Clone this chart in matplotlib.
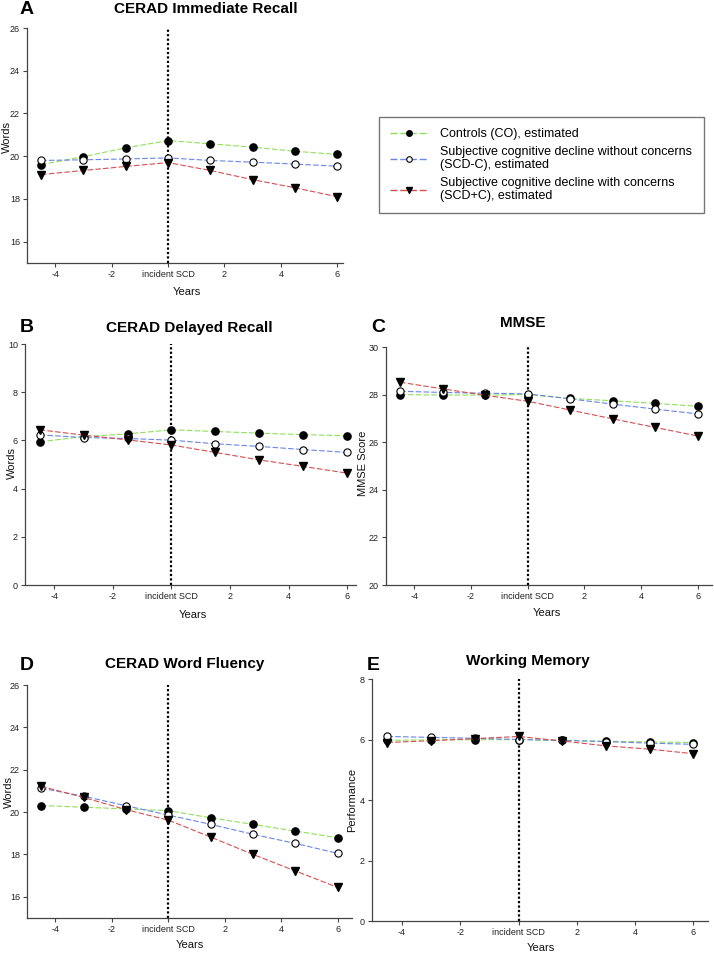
#!/usr/bin/env python3
import matplotlib
matplotlib.use('Agg')
import matplotlib.pyplot as plt
from matplotlib.lines import Line2D

plt.rcParams['font.family'] = ['Liberation Sans', 'DejaVu Sans']

years = [-4.5, -3, -1.5, 0, 1.5, 3, 4.5, 6]

# A - CERAD immediate recall
imm_co = [19.6, 19.98, 20.39, 20.73, 20.58, 20.42, 20.23, 20.08]
imm_nc = [19.8, 19.83, 19.87, 19.92, 19.8, 19.72, 19.63, 19.53]
imm_c = [19.14, 19.33, 19.52, 19.7, 19.33, 18.9, 18.52, 18.1]

# B - CERAD delayed recall
del_co = [5.94, 6.16, 6.27, 6.44, 6.37, 6.3, 6.24, 6.19]
del_nc = [6.23, 6.12, 6.08, 6.01, 5.86, 5.75, 5.62, 5.5]
del_c = [6.44, 6.22, 6.02, 5.81, 5.5, 5.19, 4.92, 4.64]

# C - MMSE
mmse_co = [28.0, 27.98, 27.98, 28.0, 27.84, 27.74, 27.63, 27.51]
mmse_nc = [28.14, 28.09, 28.06, 28.03, 27.82, 27.6, 27.39, 27.19]
mmse_c = [28.52, 28.24, 27.97, 27.72, 27.35, 26.98, 26.62, 26.26]

# D - CERAD word fluency
flu_co = [20.31, 20.23, 20.15, 20.07, 19.73, 19.42, 19.1, 18.79]
flu_nc = [21.13, 20.75, 20.3, 19.86, 19.42, 18.95, 18.52, 18.05]
flu_c = [21.22, 20.69, 20.12, 19.62, 18.82, 18.0, 17.22, 16.44]

# E - working memory
wm_co = [5.97, 5.99, 5.99, 6.0, 5.97, 5.94, 5.92, 5.9]
wm_nc = [6.1, 6.07, 6.04, 6.0, 5.97, 5.93, 5.88, 5.84]
wm_c = [5.9, 5.96, 6.03, 6.1, 5.95, 5.79, 5.68, 5.53]

xticks = [-4, -2, 0, 2, 4, 6]
xticklabels = ['-4', '-2', 'incident SCD', '2', '4', '6']

labels = ['Controls (CO), estimated',
          'Subjective cognitive decline without concerns\n(SCD-C), estimated',
          'Subjective cognitive decline with concerns\n(SCD+C), estimated']

green = '#8ee05a'
blue = '#6a86e6'
red = '#d45050'
spine_col = '#444444'

W, H = 714, 955
fig = plt.figure(figsize=(W / 100, H / 100), dpi=100)


def box(l, t, r, b):
    return [l / W, 1 - b / H, (r - l) / W, (b - t) / H]


def panel(rect, co, nc, c, ylim, yticks, xlim, letter, lpos, title, tpos, ylabel, ypos, xlpos):
    ax = fig.add_axes(box(*rect))
    dash = (0, (5, 2))
    ax.plot(years, co, color=green, lw=0.8, linestyle=dash, marker='o', ms=5.2,
            mfc='black', mec='black', zorder=3)
    ax.plot(years, nc, color=blue, lw=0.8, linestyle=dash, marker='o', ms=5.2,
            mfc='white', mec='black', mew=0.8, zorder=3)
    ax.plot(years, c, color=red, lw=0.8, linestyle=dash, marker='v', ms=5.2,
            mfc='black', mec='black', zorder=3)
    ax.axvline(0, color='black', lw=1.6, linestyle=(0, (1, 1)), zorder=2)
    ax.set_xlim(*xlim)
    ax.set_ylim(*ylim)
    ax.set_yticks(yticks)
    ax.set_xticks(xticks)
    ax.set_xticklabels(xticklabels)
    for s in ['top', 'right']:
        ax.spines[s].set_visible(False)
    for s in ['left', 'bottom']:
        ax.spines[s].set_color(spine_col)
        ax.spines[s].set_linewidth(0.9)
    ax.tick_params(labelsize=6.5, length=3, width=0.8, color=spine_col,
                   labelcolor='#222222', pad=2)
    fig.text(lpos[0] / W, 1 - lpos[1] / H, letter, fontsize=14, fontweight='bold',
             ha='center', va='center')
    fig.text(tpos[0] / W, 1 - tpos[1] / H, title, fontsize=11, fontweight='bold',
             ha='center', va='center')
    fig.text(ypos[0] / W, 1 - ypos[1] / H, ylabel, fontsize=8, rotation=90,
             ha='center', va='center', color='#111111')
    fig.text(xlpos[0] / W, 1 - xlpos[1] / H, 'Years', fontsize=8,
             ha='center', va='center', color='#111111')
    return ax


panel((27, 28, 343, 263), imm_co, imm_nc, imm_c, (15, 26), [16, 18, 20, 22, 24, 26],
      (-5, 6.2), 'A', (27, 10), 'CERAD Immediate Recall', (206, 9),
      'Words', (7, 137), (187, 292))
panel((25, 344, 356, 585), del_co, del_nc, del_c, (0, 10), [0, 2, 4, 6, 8, 10],
      (-5, 6.3), 'B', (27, 328), 'CERAD Delayed Recall', (189, 328),
      'Words', (12, 463), (193, 615))
panel((386, 347, 712, 585), mmse_co, mmse_nc, mmse_c, (20, 30), [20, 22, 24, 26, 28, 30],
      (-5, 6.5), 'C', (378, 328), 'MMSE', (523, 323),
      'MMSE Score', (363, 463), (547, 613))
panel((27, 685, 352, 918), flu_co, flu_nc, flu_c, (15, 26), [16, 18, 20, 22, 24, 26],
      (-5, 6.5), 'D', (27, 666), 'CERAD Word Fluency', (185, 664),
      'Words', (9, 792), (190, 945))
panel((372, 679, 708, 921), wm_co, wm_nc, wm_c, (0, 8), [0, 2, 4, 6, 8],
      (-5.03, 6.5), 'E', (373, 666), 'Working Memory', (528, 661),
      'Performance', (352, 800), (541, 948))

handles = [
    Line2D([], [], color=green, lw=1.0, linestyle=(0, (5, 2)), marker='o', ms=4,
           mfc='black', mec='black'),
    Line2D([], [], color=blue, lw=1.0, linestyle=(0, (5, 2)), marker='o', ms=4,
           mfc='white', mec='black', mew=0.8),
    Line2D([], [], color=red, lw=1.0, linestyle=(0, (5, 2)), marker='v', ms=4,
           mfc='black', mec='black'),
]
leg = fig.legend(handles, labels, loc='upper left',
                 bbox_to_anchor=(379 / W, 1 - 117 / H), fontsize=9,
                 frameon=True, fancybox=False, edgecolor='#555555',
                 handlelength=3.0, handletextpad=1.0, borderpad=0.9,
                 labelspacing=0.45, borderaxespad=0)
leg.get_frame().set_linewidth(1.0)
for t in leg.get_texts():
    t.set_linespacing(1.15)

fig.savefig('out.png', dpi=100)
